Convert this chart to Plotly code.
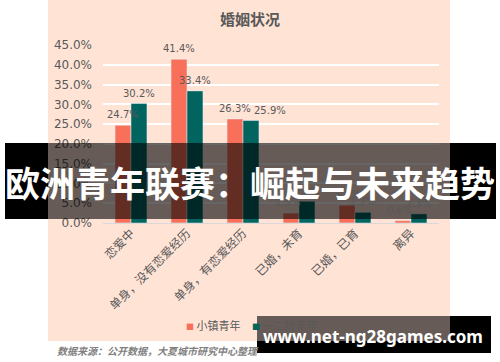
import plotly.graph_objects as go

categories = ["恋爱中", "单身，没有恋爱经历", "单身，有恋爱经历", "已婚，未育", "已婚，已育", "离异"]
town_youth = [24.7, 41.4, 26.3, 2.5, 4.5, 0.6]
city_youth = [30.2, 33.4, 25.9, 5.5, 2.7, 2.3]
series_names = ["小镇青年", "一二线青年"]
y_ticks = [0, 5, 10, 15, 20, 25, 30, 35, 40, 45]
y_tick_labels = ["0.0%", "5.0%", "10.0%", "15.0%", "20.0%", "25.0%", "30.0%", "35.0%", "40.0%", "45.0%"]

# extra horizontal nudge of data labels (pixels), style only
town_label_nudge = [0, 0, 0, -4, 0, -4]
city_label_nudge = [0, 0, 19, 0, 0, 0]

W, H = 500, 362
L, R, T, B = 103, 61, 45, 139
pw, ph = W - L - R, H - T - B

def px(x):
    return (x - L) / pw

def py(y):
    return (H - B - y) / ph

gray = "#595959"
c_town = "#F9705A"
c_city = "#02645F"
fig = go.Figure()
fig.add_trace(go.Bar(x=categories, y=town_youth, name=series_names[0],
                     marker=dict(color=c_town), showlegend=False))
fig.add_trace(go.Bar(x=categories, y=city_youth, name=series_names[1],
                     marker=dict(color=c_city), showlegend=False))

bargap = 0.43
bar_px = pw / len(categories) * (1 - bargap) / 2

annotations = []
for vals, sign, nudge in ((town_youth, -1, town_label_nudge), (city_youth, 1, city_label_nudge)):
    for cat, v, n in zip(categories, vals, nudge):
        annotations.append(dict(x=cat, y=v, xref="x", yref="y", text=f"{v:.1f}%",
                                showarrow=False, xanchor="center", yanchor="bottom",
                                xshift=sign * bar_px / 2 + n, yshift=3,
                                font=dict(size=10, color=gray, family="DejaVu Sans")))

shapes = [
    dict(type="rect", xref="paper", yref="paper", x0=px(48), x1=px(450), y0=py(341), y1=py(0),
         fillcolor="#FFE4D6", line=dict(width=0), layer="below"),
    # banner
    dict(type="rect", xref="paper", yref="paper", x0=px(5), x1=px(48), y0=py(219), y1=py(143),
         fillcolor="black", line=dict(width=0), layer="above"),
    dict(type="rect", xref="paper", yref="paper", x0=px(450), x1=px(496), y0=py(219), y1=py(143),
         fillcolor="black", line=dict(width=0), layer="above"),
    dict(type="rect", xref="paper", yref="paper", x0=px(48), x1=px(450), y0=py(219), y1=py(143),
         fillcolor="rgba(0,0,0,0.6)", line=dict(width=0), layer="above"),
    # watermark box
    dict(type="rect", xref="paper", yref="paper", x0=px(257), x1=px(450), y0=py(341), y1=py(316),
         fillcolor="rgba(0,0,0,0.6)", line=dict(width=0), layer="above"),
    dict(type="rect", xref="paper", yref="paper", x0=px(257), x1=px(450), y0=py(353), y1=py(341),
         fillcolor="black", line=dict(width=0), layer="above"),
    dict(type="rect", xref="paper", yref="paper", x0=px(450), x1=px(491), y0=py(353), y1=py(316),
         fillcolor="black", line=dict(width=0), layer="above"),
]

# legend (drawn as text entries)
annotations += [
    dict(text=f"<span style='color:{c_town};font-size:8px'>■</span> {series_names[0]}", xref="paper", yref="paper",
         x=px(184), y=py(325), xanchor="left", yanchor="middle", showarrow=False,
         font=dict(size=11, color=gray, family="Noto Sans CJK SC")),
    dict(text=f"<span style='color:{c_city};font-size:8px'>■</span> {series_names[1]}", xref="paper", yref="paper",
         x=px(250), y=py(325), xanchor="left", yanchor="middle", showarrow=False,
         font=dict(size=11, color=gray, family="Noto Sans CJK SC")),
]

annotations += [
    dict(text="欧洲青年联赛：崛起与未来趋势", xref="paper", yref="paper", x=px(250), y=py(181),
         xanchor="center", yanchor="middle", showarrow=False,
         font=dict(size=35, color="white", family="Noto Sans CJK SC", weight="bold")),
    dict(text="www.net-ng28games.com", xref="paper", yref="paper", x=px(373), y=py(336),
         xanchor="center", yanchor="middle", showarrow=False,
         font=dict(size=17, color="white", family="Noto Sans", weight="bold")),
    dict(text="<b><i>数据来源：公开数据，大夏城市研究中心整理</i></b>", xref="paper", yref="paper",
         x=px(55), y=py(350), xanchor="left", yanchor="middle", showarrow=False,
         font=dict(size=10, color="#7F7F7F", family="Noto Sans CJK SC")),
]

fig.update_layout(
    width=W, height=H,
    margin=dict(l=L, r=R, t=T, b=B, pad=0, autoexpand=False),
    paper_bgcolor="white", plot_bgcolor="rgba(0,0,0,0)",
    barmode="group", bargap=bargap, bargroupgap=0,
    title=dict(text="婚姻状况", x=250 / W, xanchor="center", y=1 - 20 / H, yanchor="middle",
               font=dict(size=15, color=gray, family="Noto Sans CJK SC", weight="bold")),
    font=dict(family="Noto Sans CJK SC", color=gray),
    showlegend=False,
    shapes=shapes, annotations=annotations,
    xaxis=dict(tickangle=-45, tickfont=dict(size=12, color=gray, family="Noto Sans CJK SC"),
               showgrid=False, showline=False, ticks="", automargin=False),
    yaxis=dict(range=[0, 45], tickvals=y_ticks, ticktext=y_tick_labels,
               tickfont=dict(size=12, color=gray, family="DejaVu Sans"), ticklabelstandoff=10,
               showgrid=True, gridcolor="white", gridwidth=2, automargin=False,
               zeroline=True, zerolinecolor="#D9D9D9", zerolinewidth=1, showline=False),
)

fig.write_html("out.html", config={"displayModeBar": False},
               post_script="document.body.style.margin='0';document.body.style.padding='0';")
